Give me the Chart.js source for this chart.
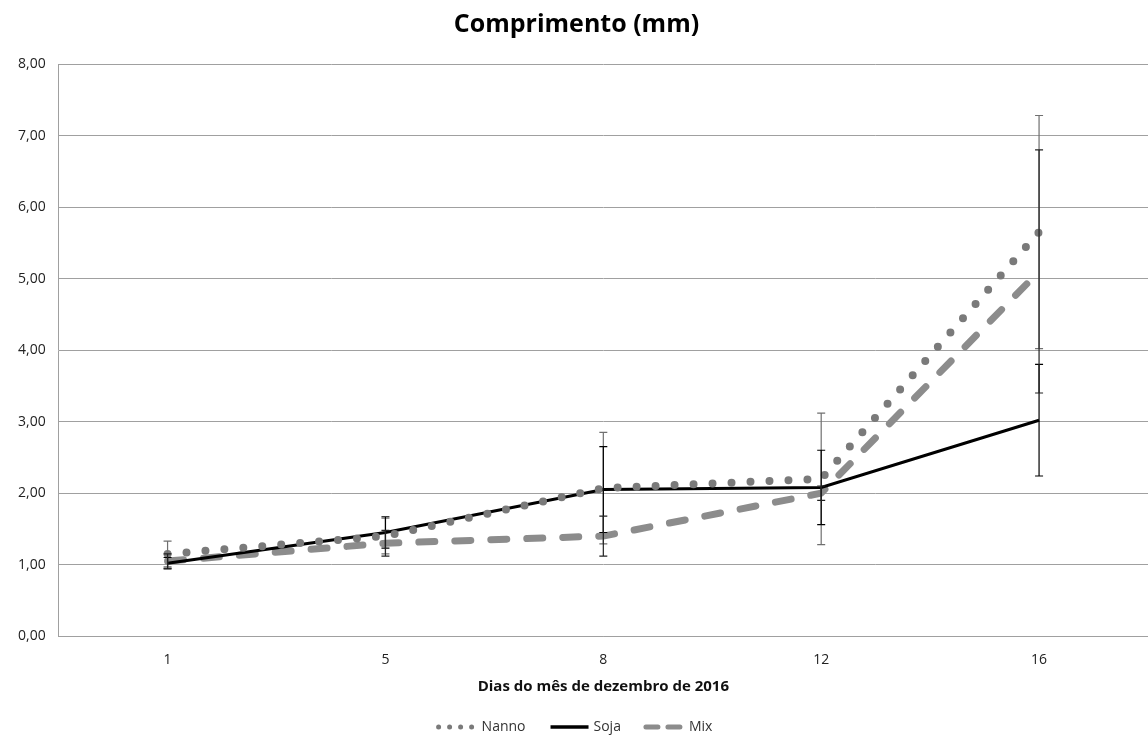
<!DOCTYPE html>
<html>
<head>
<meta charset="utf-8">
<script src="https://cdn.jsdelivr.net/npm/chart.js@4.4.1/dist/chart.umd.min.js"></script>
<style>
  body { margin: 0; background: #fff; }
  #wrap { width: 1148px; height: 735px; }
</style>
</head>
<body>
<div id="wrap"><canvas id="chart"></canvas></div>
<script>
// Days of December 2016
const days = ['1', '5', '8', '12', '16'];

// Mean length (mm) per treatment
const nanno = [1.15, 1.40, 2.07, 2.20, 5.65];
const soja = [1.02, 1.45, 2.05, 2.08, 3.02];
const mix = [1.05, 1.30, 1.40, 2.00, 5.10];

// Error bar half-widths
const nannoErr = [0.18, 0.25, 0.78, 0.92, 1.63];
const sojaErr = [0.08, 0.22, 0.60, 0.52, 0.78];
const mixErr = [0.10, 0.18, 0.28, 0.10, 1.70];

const yTicks = [0, 1, 2, 3, 4, 5, 6, 7, 8];
const FONT = '"Open Sans", sans-serif';

// Draw vertical error bars with caps on each point
const errorBars = {
    id: 'errorBars',
    afterDatasetsDraw(chart) {
        const ctx = chart.ctx;
        const y = chart.scales.y;
        chart.data.datasets.forEach((ds, di) => {
            const meta = chart.getDatasetMeta(di);
            ctx.save();
            ctx.strokeStyle = ds.errColor;
            ctx.lineWidth = 1.2;
            ctx.setLineDash([]);
            meta.data.forEach((pt, i) => {
                const top = y.getPixelForValue(ds.data[i] + ds.err[i]);
                const bot = y.getPixelForValue(ds.data[i] - ds.err[i]);
                ctx.beginPath();
                ctx.moveTo(pt.x, top);
                ctx.lineTo(pt.x, bot);
                ctx.moveTo(pt.x - 4, top);
                ctx.lineTo(pt.x + 4, top);
                ctx.moveTo(pt.x - 4, bot);
                ctx.lineTo(pt.x + 4, bot);
                ctx.stroke();
            });
            ctx.restore();
        });
    }
};

// Legend drawn by hand so the line samples keep their dash styles
const lineLegend = {
    id: 'lineLegend',
    afterDraw(chart) {
        const ctx = chart.ctx;
        const sample = 44, gap = 2, spacing = 22;
        const yPos = 727;
        ctx.save();
        ctx.font = '14px ' + FONT;
        ctx.textBaseline = 'middle';
        const items = chart.data.datasets.map(ds => ({ ds, w: ctx.measureText(ds.label).width }));
        const total = items.reduce((s, it) => s + sample + gap + it.w, 0) + spacing * (items.length - 1);
        let x = chart.width / 2 - total / 2;
        items.forEach(it => {
            const ds = it.ds;
            ctx.beginPath();
            ctx.strokeStyle = ds.borderColor;
            ctx.lineWidth = ds.legendWidth;
            ctx.lineCap = ds.borderCapStyle || 'butt';
            ctx.setLineDash(ds.legendDash || []);
            ctx.moveTo(x + 3, yPos);
            ctx.lineTo(x + sample - 3, yPos);
            ctx.stroke();
            ctx.setLineDash([]);
            ctx.fillStyle = '#333';
            ctx.fillText(ds.label, x + sample + gap, yPos);
            x += sample + gap + it.w + spacing;
        });
        ctx.restore();
    }
};

new Chart(document.getElementById('chart'), {
    type: 'line',
    data: {
        labels: days,
        datasets: [
            {
                label: 'Nanno',
                data: nanno,
                err: nannoErr,
                errColor: '#707070',
                borderColor: '#7a7a7a',
                borderWidth: 8,
                borderDash: [0, 19],
                legendWidth: 5,
                legendDash: [0, 11],
                borderCapStyle: 'round',
                pointRadius: 0,
                tension: 0
            },
            {
                label: 'Soja',
                data: soja,
                err: sojaErr,
                errColor: '#000000',
                borderColor: '#000000',
                borderWidth: 3,
                legendWidth: 3.5,
                pointRadius: 0,
                tension: 0
            },
            {
                label: 'Mix',
                data: mix,
                err: mixErr,
                errColor: '#222222',
                borderColor: '#8c8c8c',
                borderWidth: 7,
                borderDash: [16, 20],
                legendWidth: 5,
                legendDash: [12, 10],
                borderCapStyle: 'round',
                pointRadius: 0,
                tension: 0
            }
        ]
    },
    options: {
        responsive: true,
        maintainAspectRatio: false,
        animation: false,
        layout: { padding: { left: 5, right: 0, top: 0, bottom: 39 } },
        plugins: {
            title: {
                display: true,
                text: 'Comprimento (mm)',
                color: '#000',
                font: { family: FONT, size: 25, weight: 'bold' },
                padding: { top: 10, bottom: 24 }
            },
            legend: { display: false },
            tooltip: { enabled: false }
        },
        scales: {
            x: {
                offset: true,
                grid: { display: false },
                border: { display: true, color: '#a0a0a0' },
                ticks: {
                    color: '#222',
                    font: { family: FONT, size: 14 },
                    padding: 7
                },
                title: {
                    display: true,
                    text: 'Dias do mês de dezembro de 2016',
                    color: '#111',
                    font: { family: FONT, size: 15, weight: 'bold' },
                    padding: { top: 3, bottom: 0 }
                }
            },
            y: {
                min: 0,
                max: 8,
                afterBuildTicks(axis) {
                    axis.ticks = yTicks.map(v => ({ value: v }));
                },
                grid: { color: '#a0a0a0', drawTicks: false },
                border: { display: true, color: '#a0a0a0' },
                ticks: {
                    color: '#222',
                    font: { family: FONT, size: 14 },
                    padding: 13,
                    callback: v => v.toFixed(2).replace('.', ',')
                }
            }
        }
    },
    plugins: [errorBars, lineLegend]
});
</script>
</body>
</html>
